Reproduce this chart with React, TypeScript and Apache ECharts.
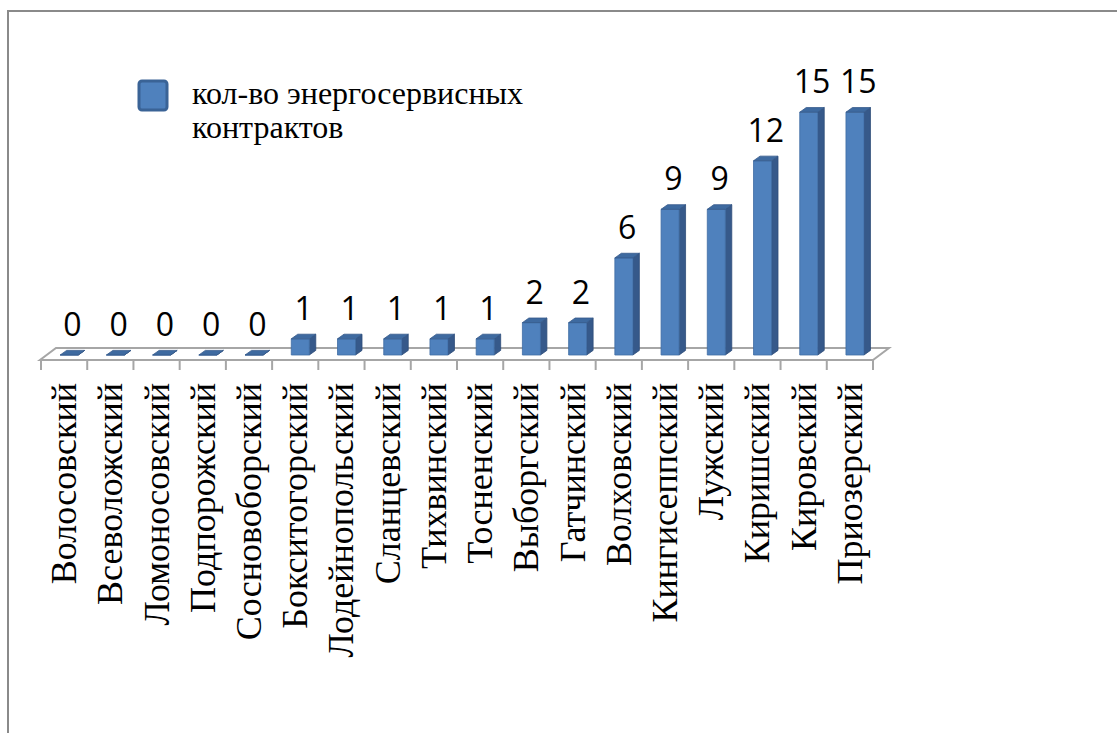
import React, { useEffect, useRef } from "react";
import * as echarts from "echarts";

const categories = [
  "Волосовский", "Всеволожский", "Ломоносовский", "Подпорожский", "Сосновоборский",
  "Бокситогорский", "Лодейнопольский", "Сланцевский", "Тихвинский", "Тосненский",
  "Выборгский", "Гатчинский", "Волховский", "Кингисеппский", "Лужский",
  "Киришский", "Кировский", "Приозерский",
];
const values = [0, 0, 0, 0, 0, 1, 1, 1, 1, 1, 2, 2, 6, 9, 9, 12, 15, 15];
const seriesName = "кол-во энергосервисных контрактов";
const legendLines = ["кол-во энергосервисных", "контрактов"];

const SERIF = "Liberation Serif";

export default function App() {
  const ref = useRef<HTMLDivElement>(null);
  useEffect(() => {
    if (!ref.current) return;
    const chart = echarts.init(ref.current, null, { renderer: "svg" });
    const N = categories.length;
    const option: any = {
      animation: false,
      backgroundColor: "#ffffff",
      grid: { left: 41, right: 244, top: 96, bottom: 378 },
      xAxis: {
        type: "category",
        data: categories,
        axisLine: { show: false },
        axisTick: { show: false },
        axisLabel: {
          rotate: 90,
          margin: 28,
          interval: 0,
          fontFamily: SERIF,
          fontSize: 36,
          color: "#000000",
        },
      },
      yAxis: { type: "value", min: 0, max: 16, show: false },
      graphic: [
        {
          type: "rect",
          shape: { x: 8, y: 11, width: 1300, height: 900 },
          style: { fill: "none", stroke: "#8a8a8a", lineWidth: 2 },
          silent: true,
        },
        {
          type: "rect",
          shape: { x: 139, y: 81, width: 28, height: 29, r: 3 },
          style: { fill: "#4F81BD", stroke: "#3A6396", lineWidth: 3 },
        },
        {
          type: "text",
          x: 192,
          y: 76,
          style: {
            text: legendLines.join("\n"),
            fontFamily: SERIF,
            fontSize: 32,
            lineHeight: 34,
            fill: "#000000",
          },
        },
      ],
      series: [
        {
          type: "custom",
          name: "floor",
          z: 1,
          silent: true,
          data: [[0, 0]],
          encode: { x: 0, y: 1 },
          renderItem: (params: any, api: any) => {
            const c0 = api.coord([0, 0]);
            const bw = api.size([1, 0])[0];
            const x0 = c0[0] - bw / 2;
            const x1 = x0 + N * bw;
            const yf = c0[1] + 5;
            const yb = c0[1] - 7;
            const dx = 16;
            const children: any[] = [
              {
                type: "polygon",
                shape: { points: [[x0 - 1, yf], [x1, yf], [x1 + dx, yb], [x0 - 1 + dx, yb]] },
                style: { fill: "#ffffff", stroke: "#a6a6a6", lineWidth: 2 },
              },
            ];
            for (let k = 0; k <= N; k++) {
              const x = x0 + k * bw;
              children.push({
                type: "line",
                shape: { x1: x, y1: yf, x2: x, y2: yf + 10 },
                style: { stroke: "#a6a6a6", lineWidth: 2 },
              });
            }
            return { type: "group", children };
          },
        },
        {
          type: "custom",
          name: seriesName,
          z: 2,
          data: values.map((v, i) => [i, v]),
          encode: { x: 0, y: 1 },
          renderItem: (params: any, api: any) => {
            const i = api.value(0);
            const v = api.value(1);
            const base = api.coord([i, 0]);
            const top = api.coord([i, v]);
            const bw = api.size([1, 0])[0];
            const left = base[0] - 0.085 * bw;
            const w = 0.39 * bw;
            const dx = 0.14 * bw;
            const dy = -0.1 * bw;
            const y0 = base[1];
            const yt = top[1];
            const r = left + w;
            return {
              type: "group",
              children: [
                {
                  type: "polygon",
                  shape: { points: [[r, yt], [r + dx, yt + dy], [r + dx, y0 + dy], [r, y0]] },
                  style: { fill: "#36598A", stroke: "#2E4D78", lineWidth: 0.8 },
                },
                {
                  type: "rect",
                  shape: { x: left, y: yt, width: w, height: y0 - yt },
                  style: { fill: "#4F81BD", stroke: "#3F6CA3", lineWidth: 0.8 },
                },
                {
                  type: "polygon",
                  shape: { points: [[left, yt], [left + dx, yt + dy], [r + dx, yt + dy], [r, yt]] },
                  style: { fill: "#3E6AA0", stroke: "#35598A", lineWidth: 0.8 },
                },
                {
                  type: "text",
                  x: left + (w + dx) / 2,
                  y: yt + dy - 11,
                  style: {
                    text: String(v),
                    fontFamily: "Open Sans",
                    fontSize: 32,
                    fill: "#000000",
                    textAlign: "center",
                    textVerticalAlign: "bottom",
                  },
                },
              ],
            };
          },
        },
      ],
    };
    chart.setOption(option);
    return () => chart.dispose();
  }, []);
  return (
    <div
      ref={ref}
      style={{ position: "fixed", left: 0, top: 0, width: 1117, height: 733 }}
    />
  );
}
